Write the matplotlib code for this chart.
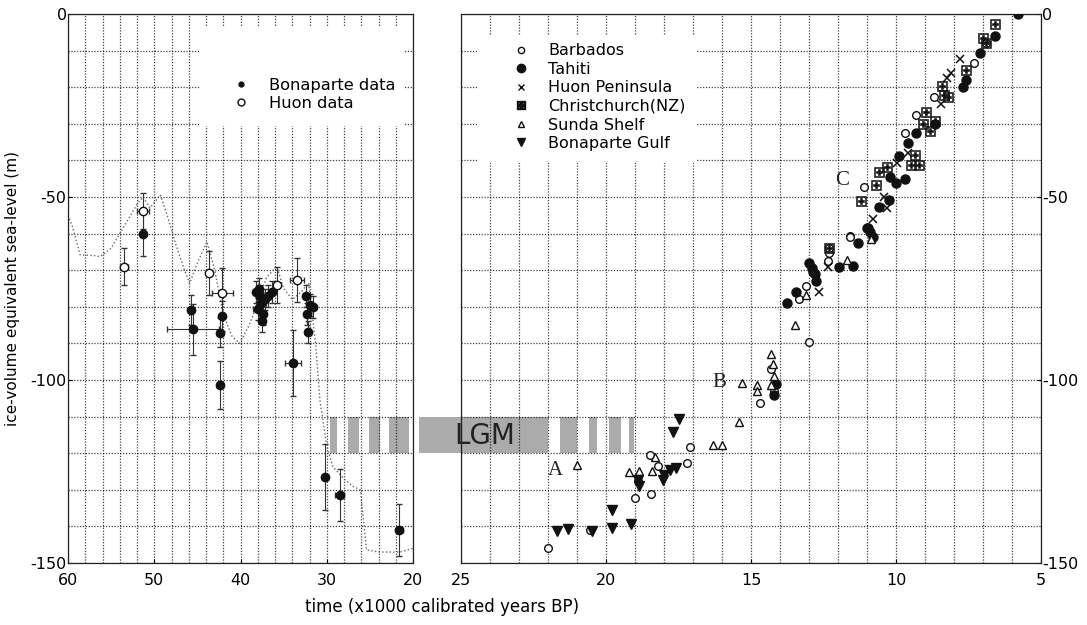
import numpy as np
import matplotlib
matplotlib.use("Agg")
import matplotlib.pyplot as plt
from matplotlib.ticker import MultipleLocator
from matplotlib.patches import Rectangle
from matplotlib.lines import Line2D

# ---- left panel: Bonaparte / Huon data (time kyr BP, sea level m) ----
bon_x = [51.3, 45.5, 45.8, 42.4, 42.4, 42.1, 37.6, 37.8, 38.0, 37.4, 37.2, 38.2, 37.5, 37.9,
         36.8, 36.4, 32.4, 32.0, 31.6, 32.3, 32.2, 33.9, 30.2, 28.5, 21.6]
bon_y = [-60.2, -86.2, -80.9, -87.1, -101.4, -82.5, -79.0, -77.0, -80.5, -82.0, -78.0, -76.0,
         -84.0, -75.0, -77.0, -76.0, -77.0, -79.5, -80.0, -82.0, -86.8, -95.4, -126.4, -131.4, -141.0]
bon_xerr = [0.3, 3.0, 0.2, 0.3, 0.3, 0.2, 0.6, 0.4, 0.5, 0.3, 0.3, 0.4, 0.3, 0.3,
            0.3, 0.3, 0.4, 0.3, 0.3, 0.3, 0.2, 0.9, 0.3, 0.5, 0.4]
bon_yerr = [6.0, 7.0, 4.0, 4.0, 6.5, 4.0, 3.0, 3.0, 3.0, 3.0, 3.0, 3.0, 3.0, 3.0,
            3.0, 3.0, 3.0, 3.0, 3.0, 3.0, 3.0, 9.0, 9.0, 7.0, 7.0]

huon_x = [53.5, 51.3, 43.7, 42.1, 35.8, 33.5]
huon_y = [-69.0, -53.8, -70.7, -76.1, -74.0, -72.7]
huon_xerr = [0.5, 0.7, 0.3, 1.2, 0.3, 0.8]
huon_yerr = [5.0, 5.0, 6.0, 6.8, 5.0, 6.0]

model_x = [60, 59.5, 58.6, 57, 56.3, 55, 54, 53, 52, 51.3, 50.5, 49.3, 48.5, 47.5, 46.5,
           45.9, 45, 43.9, 43, 42, 41, 40.1, 39, 38, 37, 35.8, 35, 34, 33, 32.1, 31.3,
           30.8, 30, 29.3, 28, 27, 26.1, 25.4, 24, 22, 21.5, 20]
model_y = [-55, -58, -65.8, -66, -66.3, -64, -60, -56, -52, -50, -53, -49.4, -55, -63, -70,
           -73.6, -68, -62.2, -70, -82, -88, -90, -85, -79, -72, -69, -75, -78, -76, -73.5,
           -90, -105.5, -118, -123.7, -127, -129, -130, -146.4, -147, -147, -147, -146]

# ---- right panel: deglacial records ----
barb_x = [22.0, 20.55, 19.0, 18.9, 18.5, 18.2, 18.45, 17.2, 17.1, 14.7, 14.2, 14.3, 13.0,
          13.35, 13.1, 12.3, 12.35, 11.6, 12.3, 11.6, 11.1, 9.7, 9.3, 8.7, 7.3, 6.9]
barb_y = [-146.0, -141.0, -132.3, -127.5, -120.5, -123.5, -131.1, -122.6, -118.2, -106.4,
          -103.0, -97.0, -89.5, -78.0, -74.3, -65.4, -67.5, -60.7, -63.8, -60.8, -47.2,
          -32.6, -27.6, -22.6, -13.5, -8.0]

tah_x = [14.2, 14.15, 13.75, 13.45, 13.0, 12.9, 12.8, 12.75, 12.85, 11.95, 11.5, 11.3,
         11.0, 10.9, 10.8, 10.95, 10.6, 10.25, 10.2, 10.0, 9.7, 9.9, 9.6, 9.3, 8.66, 7.7,
         7.6, 7.1, 6.6, 5.8]
tah_y = [-104.0, -101.0, -79.0, -75.9, -68.0, -69.5, -71.0, -73.0, -70.5, -69.0, -68.9,
         -62.5, -58.5, -59.5, -60.9, -58.6, -52.6, -50.8, -44.4, -46.2, -45.0, -38.8,
         -35.3, -32.6, -30.0, -20.0, -18.0, -10.7, -5.9, 0.0]

huon_r_x = [12.65, 12.35, 10.8, 10.3, 10.4, 9.95, 9.6, 8.45, 8.25, 8.1, 7.8]
huon_r_y = [-75.9, -69.0, -56.0, -53.0, -49.9, -40.8, -38.1, -24.7, -17.5, -16.2, -12.4]

chch_x = [12.3, 11.2, 10.7, 10.6, 10.3, 9.5, 9.2, 9.35, 8.83, 9.06, 8.66, 8.95, 8.35,
          8.2, 8.4, 7.6, 6.9, 7.0, 6.6]
chch_y = [-63.8, -51.2, -46.7, -43.1, -41.7, -41.2, -41.2, -38.5, -32.1, -30.0, -29.2,
          -26.7, -22.0, -22.6, -19.7, -15.3, -8.0, -6.6, -2.7]

sunda_x = [21.0, 19.2, 18.85, 18.4, 18.3, 16.3, 16.0, 15.4, 15.3, 14.8, 14.8, 14.3, 14.25,
           14.2, 14.3, 13.5, 13.1, 10.85, 11.7]
sunda_y = [-123.2, -125.0, -124.8, -124.8, -121.0, -117.8, -117.8, -111.4, -100.9, -101.4,
           -103.0, -93.0, -95.5, -99.0, -101.5, -85.0, -76.8, -61.4, -67.2]

bgulf_x = [21.7, 21.3, 20.5, 19.8, 19.8, 19.15, 18.9, 18.85, 18.05, 18.0, 17.8, 17.6,
           17.7, 17.5]
bgulf_y = [-141.2, -140.7, -141.2, -140.4, -135.5, -139.3, -127.3, -129.0, -127.3, -126.0,
           -124.6, -124.1, -114.3, -110.7]

# LGM shading pieces (start, end in kyr BP), left and right panel
lgm_left = [(29.6, 28.8), (27.5, 26.3), (25.1, 23.8), (22.8, 20.5)]
lgm_right = [(26.45, 22.0), (21.6, 21.0), (20.6, 20.3), (19.9, 19.5), (19.2, 19.05)]

plt.rcParams['font.family'] = ['DejaVu Sans']
plt.rcParams['axes.unicode_minus'] = False
fig = plt.figure(figsize=(10.87, 6.25), dpi=100)
ax1 = fig.add_axes([0.0626, 0.0992, 0.3174, 0.8784])
ax2 = fig.add_axes([0.4241, 0.0992, 0.5336, 0.8784])

grid_kw = dict(color='black', linestyle=(0, (1, 1.3)), linewidth=0.9, alpha=0.75)
for ax in (ax1, ax2):
    ax.set_ylim(-150, 0)
    ax.yaxis.set_major_locator(MultipleLocator(50))
    ax.yaxis.set_minor_locator(MultipleLocator(10))
    ax.grid(which='both', **grid_kw)
    ax.set_axisbelow(True)
    ax.tick_params(which='major', direction='in', length=3, labelsize=11.5)
    ax.tick_params(axis='x', which='major', pad=7)
    ax.tick_params(axis='y', which='major', pad=1)
    ax.tick_params(which='minor', length=0)
    for s in ax.spines.values():
        s.set_linewidth(0.9)
        s.set_color('#222222')

ax1.set_xlim(60, 20)
ax1.xaxis.set_major_locator(MultipleLocator(10))
ax1.xaxis.set_minor_locator(MultipleLocator(2))
ax1.set_yticks([0, -50, -100, -150])
ax1.set_ylabel("ice-volume equivalent sea-level (m)", fontsize=11)
ax1.yaxis.set_label_coords(-0.14, 0.5)

ax2.set_xlim(25, 5)
ax2.xaxis.set_major_locator(MultipleLocator(5))
ax2.xaxis.set_minor_locator(MultipleLocator(1))
ax2.set_yticks([0, -50, -100, -150])
ax2.yaxis.tick_right()

# white areas behind legends
ax1.add_patch(Rectangle((44.7, -30.6), -23.6, 27.1, facecolor='white', edgecolor='none', zorder=1))
ax2.add_patch(Rectangle((24.45, -40.7), -7.55, 35.0, facecolor='white', edgecolor='none', zorder=1))

# LGM band
for a, b in lgm_left:
    ax1.add_patch(Rectangle((a, -120), b - a, 10, facecolor='#ababab', edgecolor='none', zorder=0.3))
for a, b in lgm_right:
    ax2.add_patch(Rectangle((a, -120), b - a, 10, facecolor='#ababab', edgecolor='none',
                            zorder=0.3, clip_on=False))
ax2.text(24.2, -115.3, "LGM", fontsize=20, color='#222222', ha='center', va='center', zorder=2)

# left panel
ax1.plot(model_x, model_y, linestyle=':', color='#666666', linewidth=1.0, zorder=2)
ax1.errorbar(bon_x, bon_y, xerr=bon_xerr, yerr=bon_yerr, fmt='o', ms=6, color='#111111',
             ecolor='#333333', elinewidth=0.8, capsize=2, zorder=3)
ax1.errorbar(huon_x, huon_y, xerr=huon_xerr, yerr=huon_yerr, fmt='o', ms=6, mfc='white',
             mec='#111111', color='#111111', ecolor='#333333', elinewidth=0.8, capsize=2, zorder=3)
h_left = [Line2D([0], [0], marker='o', ms=3.5, color='#111111', linestyle='none'),
          Line2D([0], [0], marker='o', ms=5, mfc='white', mec='#111111', linestyle='none')]
leg1 = ax1.legend(h_left, ["Bonaparte data", "Huon data"], loc='upper left',
                  bbox_to_anchor=(0.435, 0.895), frameon=False, fontsize=11.7,
                  handletextpad=0.7, labelspacing=0.15, borderaxespad=0)

# right panel
mk = dict(linestyle='none', zorder=3)
ax2.plot(barb_x, barb_y, marker='o', ms=5.5, mfc='white', mec='#111111', mew=1.0, **mk)
ax2.plot(tah_x, tah_y, marker='o', ms=6.5, color='#111111', **mk)
ax2.plot(huon_r_x, huon_r_y, marker='x', ms=6, color='#111111', mew=1.1, **mk)
ax2.plot(chch_x, chch_y, marker=r'$\boxplus$', ms=7, color='#111111', mew=0.4, **mk)
ax2.plot(sunda_x, sunda_y, marker='^', ms=5.5, mfc='white', mec='#111111', mew=1.0, **mk)
ax2.plot(bgulf_x, bgulf_y, marker='v', ms=6.5, color='#111111', **mk)

h_right = [Line2D([0], [0], marker='o', ms=4.5, mfc='white', mec='#111111', linestyle='none'),
           Line2D([0], [0], marker='o', ms=6, color='#111111', linestyle='none'),
           Line2D([0], [0], marker='x', ms=5, color='#111111', linestyle='none'),
           Line2D([0], [0], marker=r'$\boxplus$', ms=6, color='#111111', linestyle='none'),
           Line2D([0], [0], marker='^', ms=4.5, mfc='white', mec='#111111', linestyle='none'),
           Line2D([0], [0], marker='v', ms=5.5, color='#111111', linestyle='none')]
ax2.legend(h_right, ["Barbados", "Tahiti", "Huon Peninsula", "Christchurch(NZ)",
                     "Sunda Shelf", "Bonaparte Gulf"],
           loc='upper left', bbox_to_anchor=(0.065, 0.958), frameon=False, fontsize=11.5,
           handletextpad=0.7, labelspacing=0.22, borderaxespad=0)

for lab, x, y in [("A", 21.75, -124.6), ("B", 16.1, -100.8), ("C", 11.85, -45.6)]:
    ax2.text(x, y, lab, fontsize=15, family='Liberation Serif', ha='center', va='center',
             color='#222222', zorder=4)

fig.text(0.407, 0.028, "time (x1000 calibrated years BP)", fontsize=12, ha='center', va='center')

fig.savefig("out.png", dpi=100)
